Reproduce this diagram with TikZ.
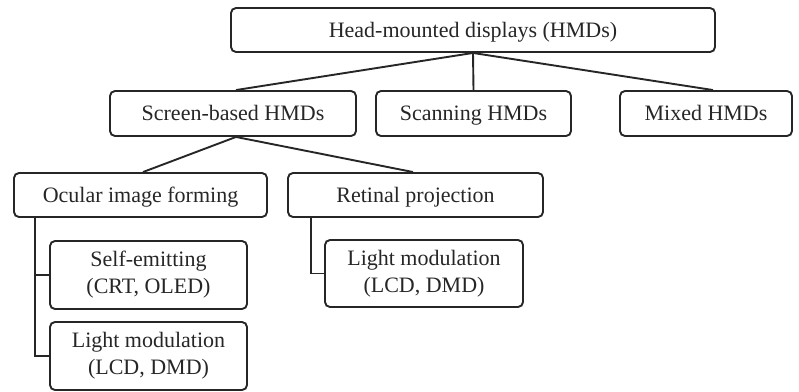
\documentclass[tikz,border=0pt]{standalone}
\usepackage{fontspec}
\setmainfont{Liberation Serif}
\definecolor{ink}{HTML}{262626}
\begin{document}
\begin{tikzpicture}[x=1pt,y=-1pt,
  box/.style={draw=ink,line width=1.9pt,rounded corners=5pt,inner sep=0pt,
    text=ink,align=center,font=\fontsize{22}{27}\selectfont},
  one/.style={box,text height=14.6pt,text depth=0pt},
  link/.style={draw=ink,line width=1.9pt}]
\useasboundingbox (0,0) rectangle (799,391);
\node[one,minimum width=484pt,minimum height=44pt] (top) at (473,30) {Head-mounted displays (HMDs)};
\node[one,minimum width=246pt,minimum height=45pt] (screen) at (233,113.5) {Screen-based HMDs};
\node[one,minimum width=195pt,minimum height=45pt] (scan) at (473.5,113.5) {Scanning HMDs};
\node[one,minimum width=172pt,minimum height=45pt] (mixed) at (706,113.5) {Mixed HMDs};
\node[one,minimum width=253pt,minimum height=44pt] (ocular) at (140.5,195) {Ocular image forming};
\node[one,minimum width=255pt,minimum height=44pt] (retinal) at (415.5,195) {Retinal projection};
\node[box,minimum width=197pt,minimum height=68pt] (self) at (148.5,275) {Self-emitting\\(CRT, OLED)};
\node[box,minimum width=197pt,minimum height=68pt] (lightl) at (148.5,356) {Light modulation\\(LCD, DMD)};
\node[box,minimum width=198pt,minimum height=67pt] (lightr) at (424,273.5) {Light modulation\\(LCD, DMD)};
\draw[link] (top.south) -- ([xshift=3pt]screen.north);
\draw[link] (top.south) -- (scan.north);
\draw[link] (top.south) -- ([xshift=7pt]mixed.north);
\draw[link] ([xshift=3pt]screen.south) -- ([xshift=2.5pt]ocular.north);
\draw[link] ([xshift=3pt]screen.south) -- ([xshift=-2.5pt]retinal.north);
\draw[link] ([xshift=22pt]ocular.south west) |- (lightl.west);
\draw[link] ([xshift=22pt]ocular.south west) |- (self.west);
\draw[link] ([xshift=24pt]retinal.south west) |- (lightr.west);
\end{tikzpicture}
\end{document}
